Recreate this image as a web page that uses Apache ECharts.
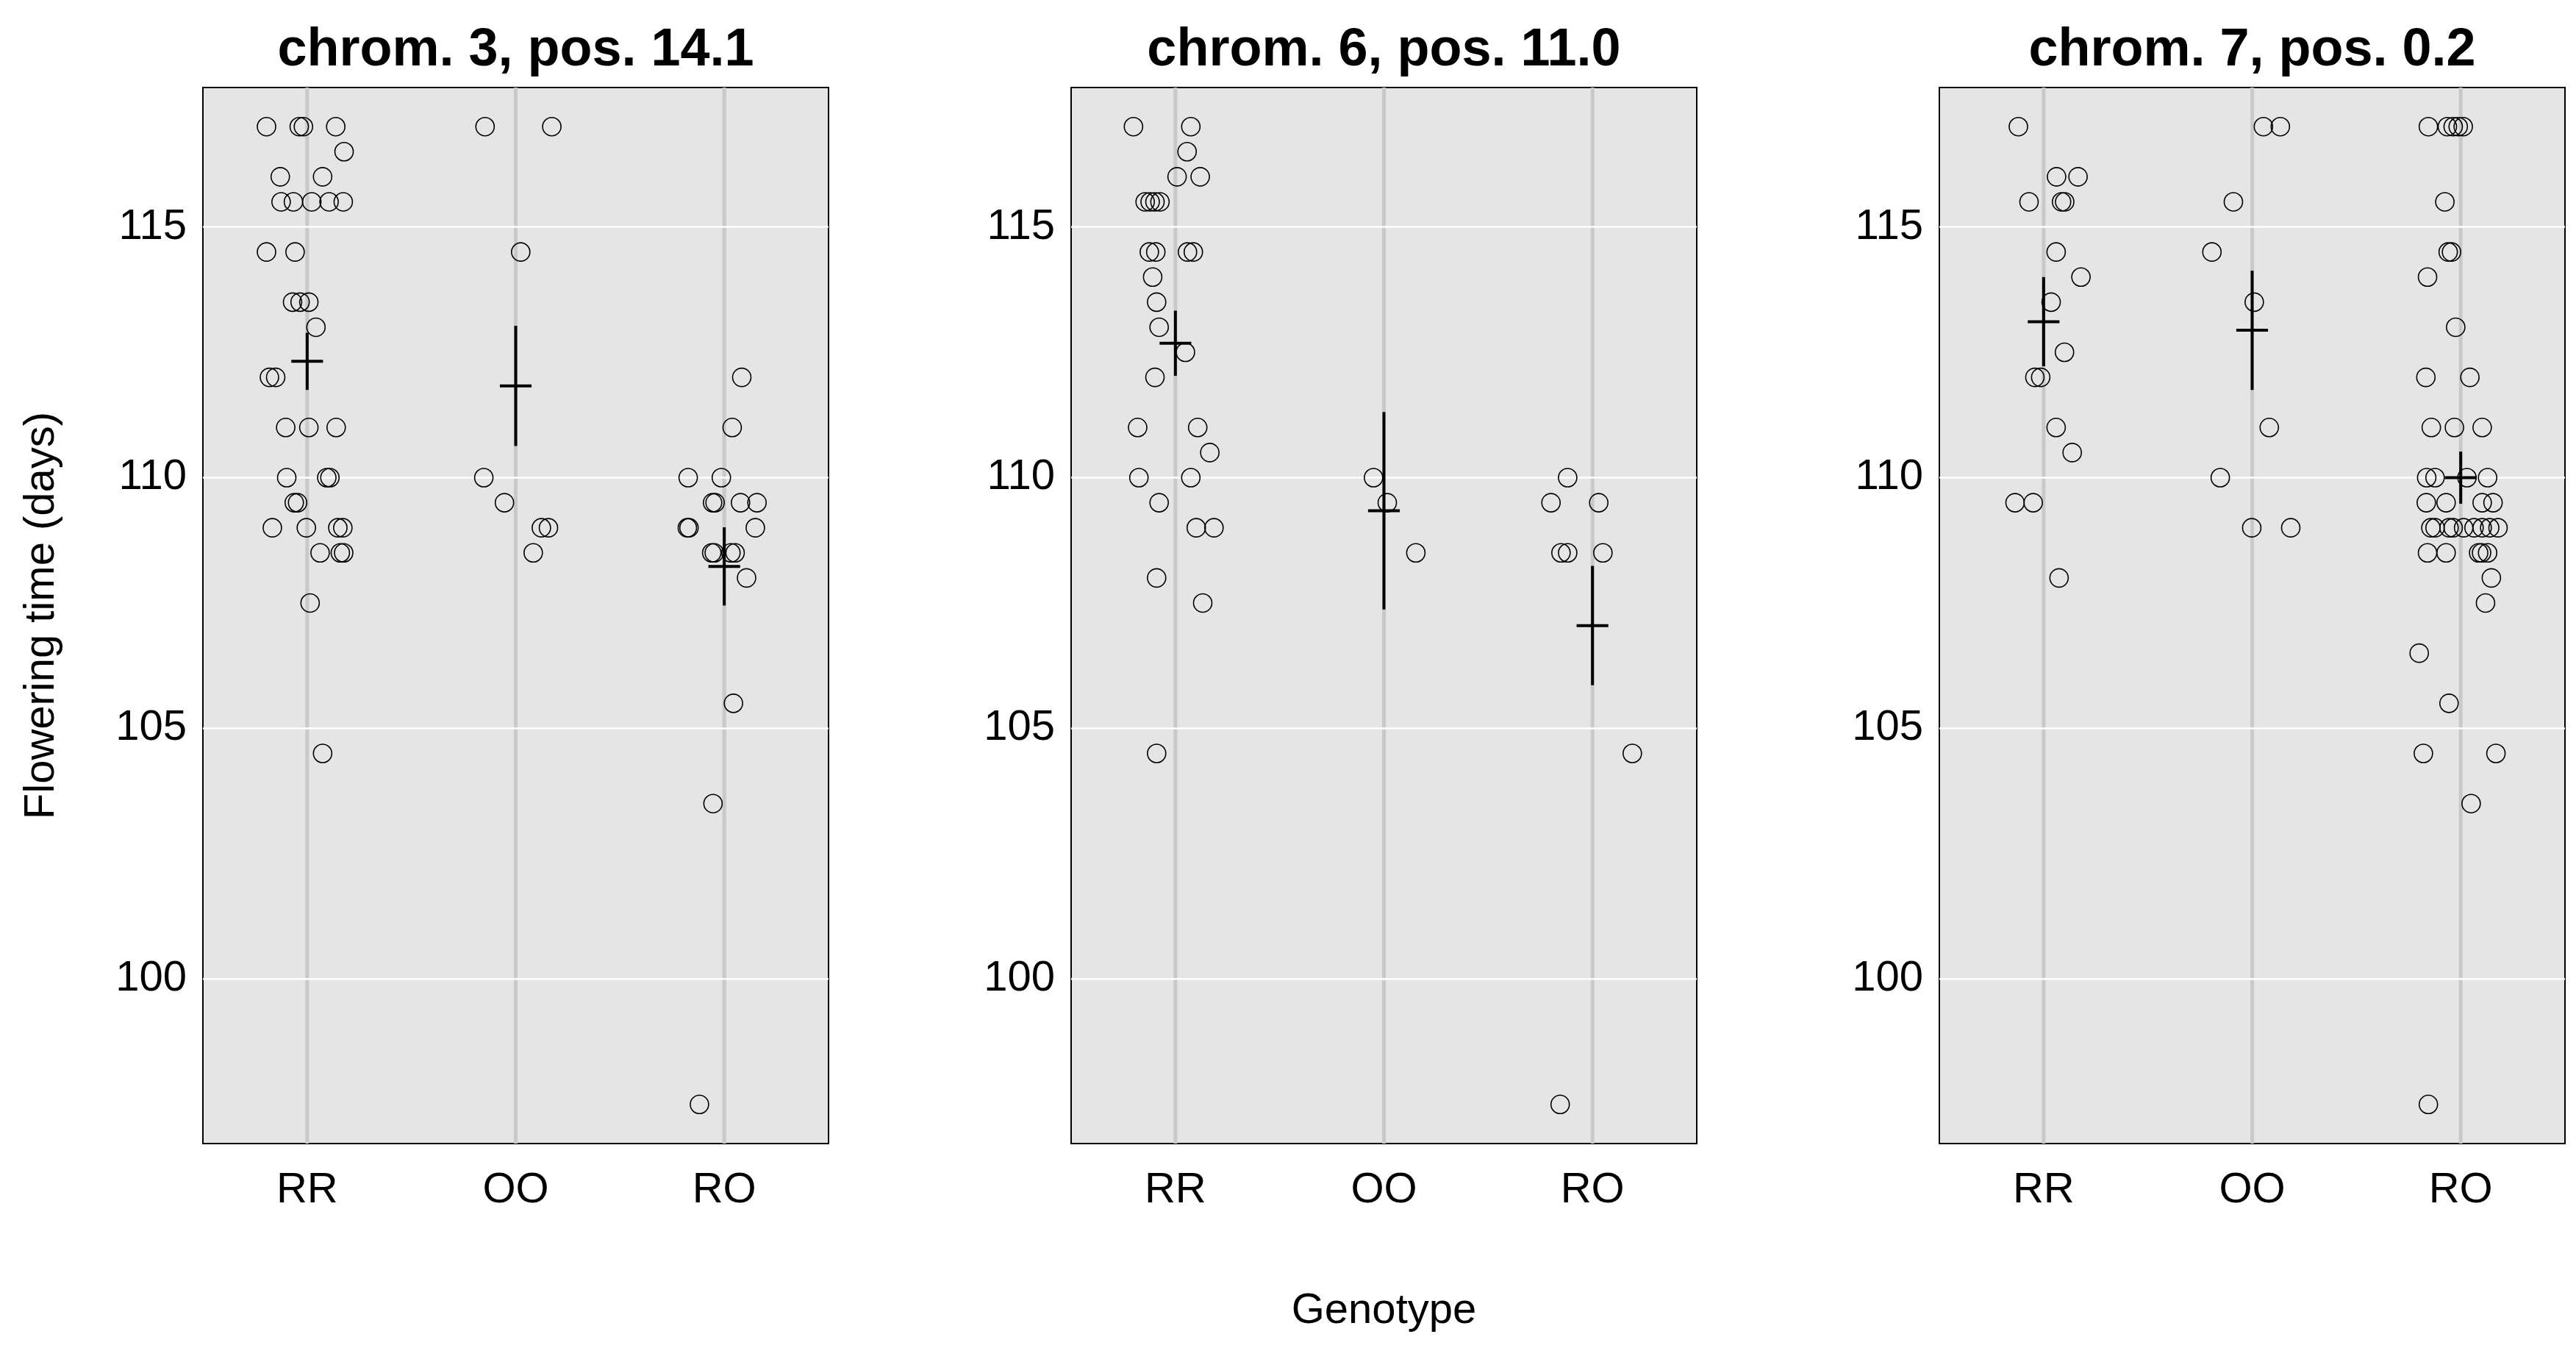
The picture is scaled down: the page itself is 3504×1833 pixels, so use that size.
<!DOCTYPE html>
<html>
<head>
<meta charset="utf-8">
<script src="https://cdn.jsdelivr.net/npm/echarts@6/dist/echarts.min.js"></script>
<style>
  html, body { margin: 0; padding: 0; background: #fff; }
  #chart { width: 3504px; height: 1833px; }
</style>
</head>
<body>
<div id="chart"></div>
<script>
// 基本信息
var genotypes = ['RR', 'OO', 'RO'];
var panelTitles = ['chrom. 3, pos. 14.1', 'chrom. 6, pos. 11.0', 'chrom. 7, pos. 0.2'];
var yTicks = [100, 105, 110, 115];

// chrom. 3 —— 开花时间 + 水平抖动
var c3_RR = [117, 117, 117, 117, 116.5, 116, 116, 115.5, 115.5, 115.5, 115.5, 115.5, 114.5, 114.5,
  113.5, 113.5, 113.5, 113, 112, 112, 111, 111, 111, 110, 110, 110, 109.5, 109.5,
  109, 109, 109, 109, 108.5, 108.5, 108.5, 107.5, 104.5];
var c3_RR_jit = [-0.195, -0.038, -0.018, 0.137, 0.177, -0.129, 0.074, -0.125, -0.066, 0.022, 0.105, 0.173, -0.195, -0.058,
  -0.070, -0.034, 0.008, 0.042, -0.181, -0.151, -0.103, 0.008, 0.139, -0.098, 0.094, 0.109, -0.062, -0.046,
  -0.167, -0.004, 0.147, 0.171, 0.062, 0.159, 0.175, 0.014, 0.074];
var c3_OO = [117, 117, 114.5, 110, 109.5, 109, 109, 108.5];
var c3_OO_jit = [-0.147, 0.173, 0.024, -0.153, -0.054, 0.123, 0.157, 0.084];
var c3_RO = [112, 111, 110, 110, 109.5, 109.5, 109.5, 109.5, 109, 109, 109, 108.5, 108.5, 108.5, 108.5,
  108, 105.5, 103.5, 97.5];
var c3_RO_jit = [0.084, 0.038, -0.173, -0.014, -0.056, -0.044, 0.078, 0.157, -0.177, -0.169, 0.149, -0.060, -0.048, 0.032, 0.052,
  0.107, 0.044, -0.054, -0.119];
var c3_mean = [112.32, 111.83, 108.23];
var c3_se = [0.57, 1.2, 0.78];

// chrom. 6
var c6_RR = [117, 117, 116.5, 116, 116, 115.5, 115.5, 115.5, 115.5, 114.5, 114.5, 114.5, 114.5,
  114, 113.5, 113, 112.5, 112, 111, 111, 110.5, 110, 110, 109.5, 109, 109, 108, 107.5, 104.5];
var c6_RR_jit = [-0.201, 0.074, 0.056, 0.008, 0.119, -0.145, -0.121, -0.098, -0.074, -0.125, -0.094, 0.058, 0.086,
  -0.109, -0.090, -0.078, 0.048, -0.098, -0.181, 0.107, 0.165, -0.175, 0.074, -0.078, 0.100, 0.185, -0.090, 0.131, -0.090];
var c6_OO = [110, 109.5, 108.5];
var c6_OO_jit = [-0.050, 0.016, 0.153];
var c6_RO = [110, 109.5, 109.5, 108.5, 108.5, 108.5, 104.5, 97.5];
var c6_RO_jit = [-0.119, -0.199, 0.030, -0.151, -0.119, 0.050, 0.191, -0.155];
var c6_mean = [112.68, 109.34, 107.05];
var c6_se = [0.65, 1.97, 1.19];

// chrom. 7
var c7_RR = [117, 116, 116, 115.5, 115.5, 115.5, 114.5, 114, 113.5, 112.5, 112, 112, 111, 110.5, 109.5, 109.5, 108];
var c7_RR_jit = [-0.121, 0.062, 0.165, -0.070, 0.086, 0.101, 0.060, 0.179, 0.036, 0.100, -0.042, -0.014, 0.060, 0.137, -0.137, -0.050, 0.074];
var c7_OO = [117, 117, 115.5, 114.5, 113.5, 111, 110, 109, 109];
var c7_OO_jit = [0.054, 0.135, -0.090, -0.193, 0.010, 0.082, -0.153, -0.002, 0.185];
var c7_RO = [117, 117, 117, 117, 117, 115.5, 114.5, 114.5, 114, 113, 112, 112, 111, 111, 111,
  110, 110, 110, 110, 109.5, 109.5, 109.5, 109.5,
  109, 109, 109, 109, 109, 109, 109, 109, 109,
  108.5, 108.5, 108.5, 108.5, 108.5, 108, 107.5, 106.5, 105.5, 104.5, 104.5, 103.5, 97.5];
var c7_RO_jit = [-0.155, -0.064, -0.036, -0.012, 0.012, -0.076, -0.060, -0.044, -0.159, -0.024, -0.167, 0.044, -0.141, -0.030, 0.103,
  -0.163, -0.123, 0.030, 0.129, -0.165, -0.070, 0.103, 0.155,
  -0.143, -0.123, -0.056, -0.036, 0.014, 0.064, 0.103, 0.139, 0.179,
  -0.159, -0.070, 0.086, 0.100, 0.129, 0.147, 0.119, -0.199, -0.056, -0.179, 0.169, 0.050, -0.155];
var c7_mean = [113.11, 112.94, 110.0];
var c7_se = [0.89, 1.19, 0.52];

var panels = [
  { groups: [[c3_RR, c3_RR_jit], [c3_OO, c3_OO_jit], [c3_RO, c3_RO_jit]], mean: c3_mean, se: c3_se },
  { groups: [[c6_RR, c6_RR_jit], [c6_OO, c6_OO_jit], [c6_RO, c6_RO_jit]], mean: c6_mean, se: c6_se },
  { groups: [[c7_RR, c7_RR_jit], [c7_OO, c7_OO_jit], [c7_RO, c7_RO_jit]], mean: c7_mean, se: c7_se }
];

var FONT = '"Liberation Sans", Arial, sans-serif';
var gridLefts = [276, 1457, 2638];
var gridTop = 119, gridW = 851, gridH = 1436;
var yMin = 96.72, yMax = 117.78;
var crossHalf = 0.076;

var chart = echarts.init(document.getElementById('chart'));

var grids = [], xAxes = [], yAxes = [], series = [], graphics = [];

panels.forEach(function (p, i) {
  grids.push({
    left: gridLefts[i], top: gridTop, width: gridW, height: gridH,
    show: true, backgroundColor: '#E5E5E5', borderColor: '#000', borderWidth: 2
  });
  xAxes.push({
    gridIndex: i, type: 'value', min: 0.5, max: 3.5,
    axisLine: { show: false }, axisTick: { show: false }, splitLine: { show: false },
    axisLabel: {
      customValues: [1, 2, 3], margin: 35, fontSize: 58, color: '#000', fontFamily: FONT,
      formatter: function (v) { return genotypes[Math.round(v) - 1]; }
    },
    name: i === 1 ? 'Genotype' : '', nameLocation: 'middle', nameGap: 199,
    nameTextStyle: { fontSize: 58, color: '#000', fontFamily: FONT }
  });
  yAxes.push({
    gridIndex: i, type: 'value', min: yMin, max: yMax,
    axisLine: { show: false }, axisTick: { show: false }, splitLine: { show: false },
    axisLabel: { customValues: yTicks, margin: 22, fontSize: 58, color: '#000', fontFamily: FONT },
    name: i === 0 ? 'Flowering time (days)' : '', nameLocation: 'middle', nameGap: 190,
    nameTextStyle: { fontSize: 58, color: '#000', fontFamily: FONT }
  });

  // 竖线 (基因型位置)
  series.push({
    type: 'custom', xAxisIndex: i, yAxisIndex: i, z: 1, silent: true,
    data: [1, 2, 3].map(function (c) { return [c, yMin]; }),
    encode: { x: 0, y: 1 },
    renderItem: function (params, api) {
      var a = api.coord([api.value(0), yMin]);
      var b = api.coord([api.value(0), yMax]);
      return { type: 'line', shape: { x1: a[0], y1: a[1], x2: b[0], y2: b[1] },
        style: { stroke: '#C9C9C9', lineWidth: 5 } };
    }
  });
  // 横向网格线
  series.push({
    type: 'custom', xAxisIndex: i, yAxisIndex: i, z: 2, silent: true,
    data: yTicks.map(function (v) { return [0.5, v]; }),
    encode: { x: 0, y: 1 },
    renderItem: function (params, api) {
      var a = api.coord([0.5, api.value(1)]);
      var b = api.coord([3.5, api.value(1)]);
      return { type: 'line', shape: { x1: a[0], y1: a[1], x2: b[0], y2: b[1] },
        style: { stroke: '#FFFFFF', lineWidth: 2.5 } };
    }
  });

  // 散点
  var pts = [];
  p.groups.forEach(function (g, k) {
    g[0].forEach(function (y, j) { pts.push([k + 1 + g[1][j], y]); });
  });
  series.push({
    type: 'scatter', xAxisIndex: i, yAxisIndex: i, z: 3,
    data: pts, symbol: 'circle', symbolSize: 25,
    itemStyle: { color: 'rgba(0,0,0,0)', borderColor: '#000', borderWidth: 1.6, opacity: 1 }
  });

  // 均值 ± SE 十字
  series.push({
    type: 'custom', xAxisIndex: i, yAxisIndex: i, z: 4,
    data: p.mean.map(function (m, k) { return [k + 1, m, p.se[k]]; }),
    encode: { x: 0, y: 1 },
    renderItem: function (params, api) {
      var x = api.value(0), m = api.value(1), s = api.value(2);
      var t = api.coord([x, m + s]), b = api.coord([x, m - s]);
      var l = api.coord([x - crossHalf, m]), r = api.coord([x + crossHalf, m]);
      return { type: 'group', children: [
        { type: 'line', shape: { x1: t[0], y1: t[1], x2: b[0], y2: b[1] }, style: { stroke: '#000', lineWidth: 4 } },
        { type: 'line', shape: { x1: l[0], y1: l[1], x2: r[0], y2: r[1] }, style: { stroke: '#000', lineWidth: 4 } }
      ] };
    }
  });

  graphics.push({
    type: 'text', x: gridLefts[i] + gridW / 2, y: 69,
    style: { text: panelTitles[i], align: 'center', verticalAlign: 'middle',
      font: 'bold 72px ' + FONT, fill: '#000' }
  });
});

chart.setOption({
  animation: false,
  backgroundColor: '#fff',
  grid: grids,
  xAxis: xAxes,
  yAxis: yAxes,
  series: series,
  graphic: graphics
});
</script>
</body>
</html>
